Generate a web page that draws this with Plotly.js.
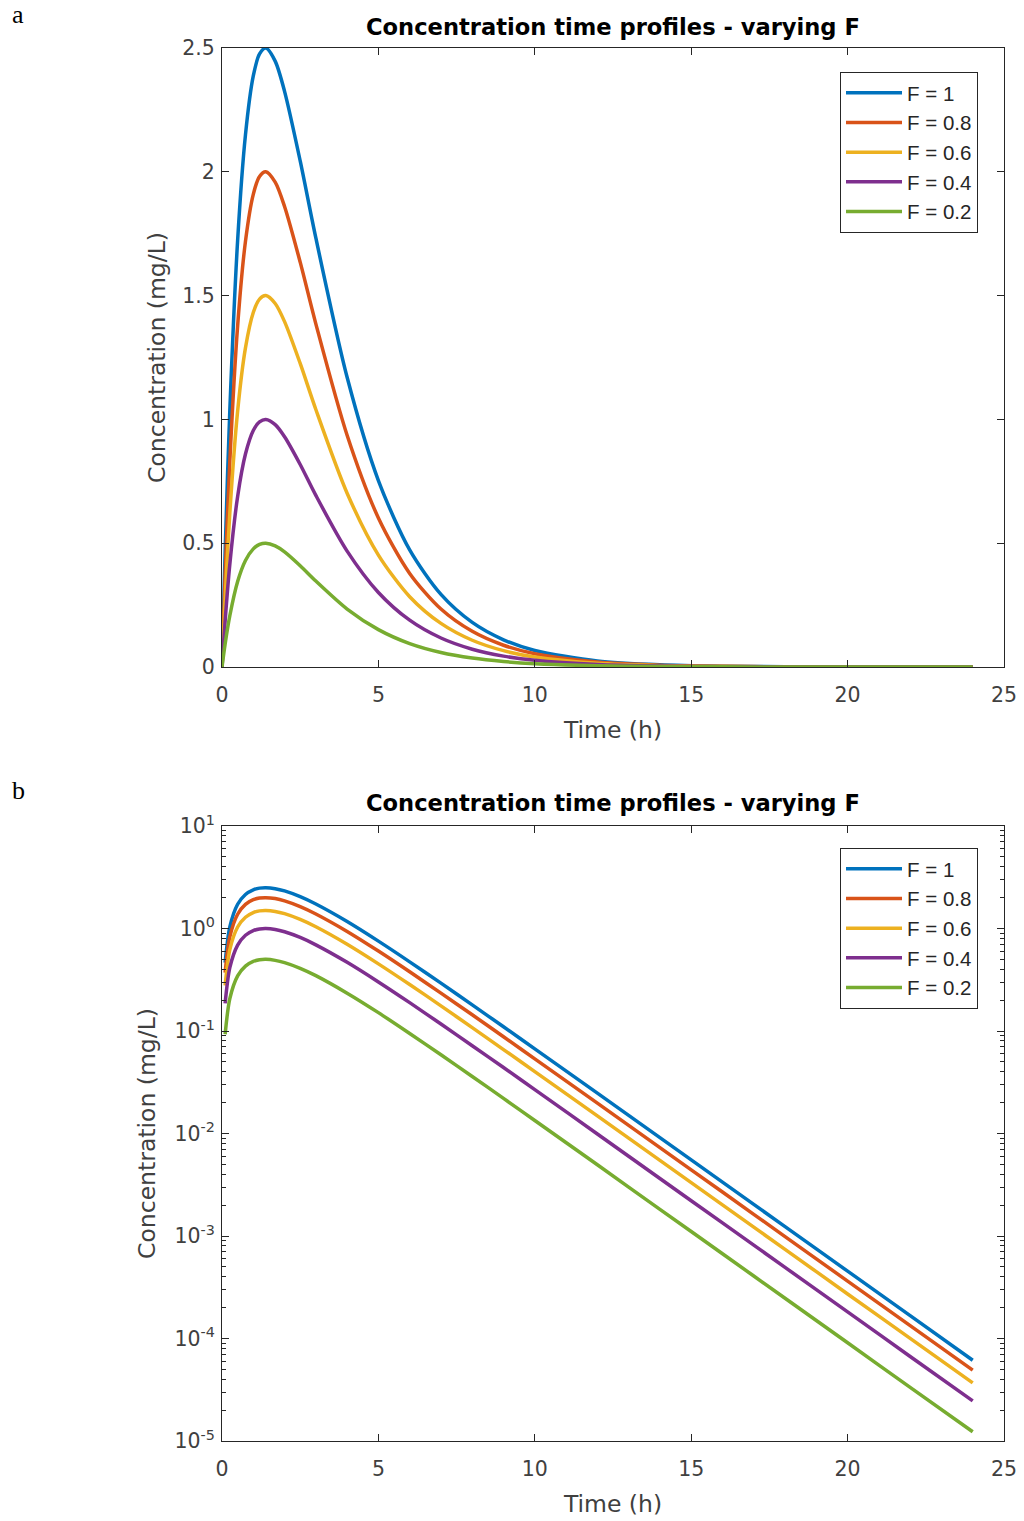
<!DOCTYPE html>
<html>
<head>
<meta charset="utf-8">
<script src="https://cdn.plot.ly/plotly-3.0.1.min.js"></script>
<style>
  html, body { margin: 0; padding: 0; background: #ffffff; }
  #chart { width: 1024px; height: 1521px; }
</style>
</head>
<body>
<div id="chart"></div>
<script>
// ---- Data ----
const timeH = [0, 0.1, 0.25, 0.5, 0.75, 1, 1.2, 1.4, 1.7, 2, 2.5, 3, 4, 5, 6, 7, 8, 9, 10, 12, 14, 16, 18, 20, 22, 24];

const concF1  = [0, 0.464, 1.037, 1.723, 2.149, 2.387, 2.476, 2.500, 2.447, 2.325, 2.044, 1.733, 1.170, 0.753, 0.473, 0.293, 0.180, 0.1099, 0.0669, 0.02473, 0.009111, 0.003355, 0.001234, 0.000454, 0.0001670, 0.0000614];
const concF08 = [0, 0.371, 0.830, 1.378, 1.719, 1.909, 1.981, 2.000, 1.958, 1.860, 1.635, 1.386, 0.936, 0.602, 0.378, 0.234, 0.144, 0.0879, 0.0535, 0.01978, 0.00729, 0.002684, 0.000987, 0.000363, 0.0001336, 0.0000492];
const concF06 = [0, 0.278, 0.622, 1.034, 1.289, 1.432, 1.486, 1.500, 1.468, 1.395, 1.226, 1.040, 0.702, 0.452, 0.284, 0.176, 0.108, 0.0659, 0.0402, 0.01484, 0.00547, 0.002013, 0.000740, 0.000272, 0.0001002, 0.0000369];
const concF04 = [0, 0.186, 0.415, 0.689, 0.860, 0.955, 0.990, 1.000, 0.979, 0.930, 0.818, 0.693, 0.468, 0.301, 0.189, 0.117, 0.0719, 0.0440, 0.0268, 0.00989, 0.00364, 0.001342, 0.000494, 0.000182, 0.0000668, 0.0000246];
const concF02 = [0, 0.093, 0.207, 0.345, 0.430, 0.477, 0.495, 0.500, 0.489, 0.465, 0.409, 0.347, 0.234, 0.151, 0.0946, 0.0586, 0.0360, 0.0220, 0.01338, 0.00495, 0.00182, 0.000671, 0.000247, 0.0000908, 0.0000334, 0.0000123];

const seriesNames = ['F = 1', 'F = 0.8', 'F = 0.6', 'F = 0.4', 'F = 0.2'];
const seriesValues = [concF1, concF08, concF06, concF04, concF02];
const seriesColors = ['#0072BD', '#D95319', '#EDB120', '#7E2F8E', '#77AC30'];

const xTickVals = [0, 5, 10, 15, 20, 25];
const linTickVals = [0, 0.5, 1, 1.5, 2, 2.5];
const linTickText = ['0', '0.5', '1', '1.5', '2', '2.5'];
const logTickVals = [1e-5, 1e-4, 1e-3, 1e-2, 1e-1, 1, 10];
const logTickText = ['10<sup>-5</sup>', '10<sup>-4</sup>', '10<sup>-3</sup>', '10<sup>-2</sup>', '10<sup>-1</sup>', '10<sup>0</sup>', '10<sup>1</sup>'];

const chartTitle = 'Concentration time profiles - varying F';
const xTitle = 'Time (h)';
const yTitle = 'Concentration (mg/L)';

// ---- Build traces ----
const traces = [];
seriesValues.forEach((vals, i) => {
  traces.push({
    x: timeH, y: vals, type: 'scatter', mode: 'lines',
    name: seriesNames[i],
    line: {color: seriesColors[i], width: 3.5, shape: 'spline', smoothing: 0.8},
    xaxis: 'x', yaxis: 'y', legend: 'legend'
  });
});
// log panel: a zero concentration cannot be shown on a log axis, leave it out
seriesValues.forEach((vals, i) => {
  traces.push({
    x: timeH, y: vals.map(v => (v > 0 ? v : null)), type: 'scatter', mode: 'lines',
    name: seriesNames[i], connectgaps: false,
    line: {color: seriesColors[i], width: 3.5, shape: 'spline', smoothing: 0.8},
    xaxis: 'x2', yaxis: 'y2', legend: 'legend2'
  });
});

const W = 1024, H = 1521;
const axColor = '#262626';
const tickFont = {family: 'DejaVu Sans, sans-serif', size: 20.5, color: '#404040'};
const titleFont = {family: 'DejaVu Sans, sans-serif', size: 23.5, color: '#404040'};
const legendFont = {family: 'Liberation Sans, Arial, sans-serif', size: 20.5, color: '#262626'};
const headFont = {family: 'DejaVu Sans, sans-serif', size: 22.6, color: '#000000'};

const xDomain = [222 / W, 1004 / W];
const topDomain = [1 - 667 / H, 1 - 48 / H];
const botDomain = [1 - 1441 / H, 1 - 826 / H];

function xAxis(anchor) {
  return {
    domain: xDomain, anchor: anchor, range: [0, 25],
    tickvals: xTickVals, ticks: 'inside', ticklen: 7, tickcolor: axColor, tickwidth: 1,
    showline: true, linecolor: axColor, linewidth: 1, mirror: 'ticks',
    showgrid: false, zeroline: false, tickfont: tickFont, ticklabelstandoff: 9,
    title: {text: xTitle, font: titleFont, standoff: 15}
  };
}

const legendBase = {
  xanchor: 'left', yanchor: 'top',
  bgcolor: '#ffffff', bordercolor: axColor, borderwidth: 1,
  font: legendFont, tracegroupgap: 0, itemwidth: 56
};

const layout = {
  width: W, height: H,
  margin: {l: 0, r: 0, t: 0, b: 0},
  paper_bgcolor: '#ffffff', plot_bgcolor: '#ffffff',
  showlegend: true,
  xaxis: xAxis('y'),
  yaxis: {
    domain: topDomain, anchor: 'x', range: [0, 2.5],
    tickvals: linTickVals, ticktext: linTickText,
    ticks: 'inside', ticklen: 7, tickcolor: axColor, tickwidth: 1,
    showline: true, linecolor: axColor, linewidth: 1, mirror: 'ticks',
    showgrid: false, zeroline: false, tickfont: tickFont, ticklabelstandoff: 2,
    title: {text: yTitle, font: titleFont, standoff: 10}
  },
  xaxis2: xAxis('y2'),
  yaxis2: {
    domain: botDomain, anchor: 'x2', type: 'log', range: [-5, 1],
    tickvals: logTickVals, ticktext: logTickText,
    ticks: 'inside', ticklen: 7, tickcolor: axColor, tickwidth: 1,
    minor: {ticks: 'inside', ticklen: 4, tickcolor: axColor, dtick: 'D1', showgrid: false},
    showline: true, linecolor: axColor, linewidth: 1, mirror: 'ticks',
    showgrid: false, zeroline: false, tickfont: tickFont, ticklabelstandoff: 2,
    title: {text: yTitle, font: titleFont, standoff: 12}
  },
  legend: Object.assign({x: 840 / W, y: 1 - 72 / H}, legendBase),
  legend2: Object.assign({x: 840 / W, y: 1 - 848 / H}, legendBase),
  annotations: [
    {text: '<b>' + chartTitle + '</b>', xref: 'paper', yref: 'paper',
     x: 613 / W, y: 1 - 27 / H, xanchor: 'center', yanchor: 'middle', showarrow: false,
     font: headFont},
    {text: '<b>' + chartTitle + '</b>', xref: 'paper', yref: 'paper',
     x: 613 / W, y: 1 - 803 / H, xanchor: 'center', yanchor: 'middle', showarrow: false,
     font: headFont},
    {text: 'a', xref: 'paper', yref: 'paper', x: 10 / W, y: 1 - 14 / H,
     xanchor: 'left', yanchor: 'middle', showarrow: false,
     font: {family: 'Liberation Serif, DejaVu Serif, serif', size: 26, color: '#000000'}},
    {text: 'b', xref: 'paper', yref: 'paper', x: 10 / W, y: 1 - 790 / H,
     xanchor: 'left', yanchor: 'middle', showarrow: false,
     font: {family: 'Liberation Serif, DejaVu Serif, serif', size: 26, color: '#000000'}}
  ]
};

Plotly.newPlot('chart', traces, layout, {staticPlot: true, displayModeBar: false});
</script>
</body>
</html>
